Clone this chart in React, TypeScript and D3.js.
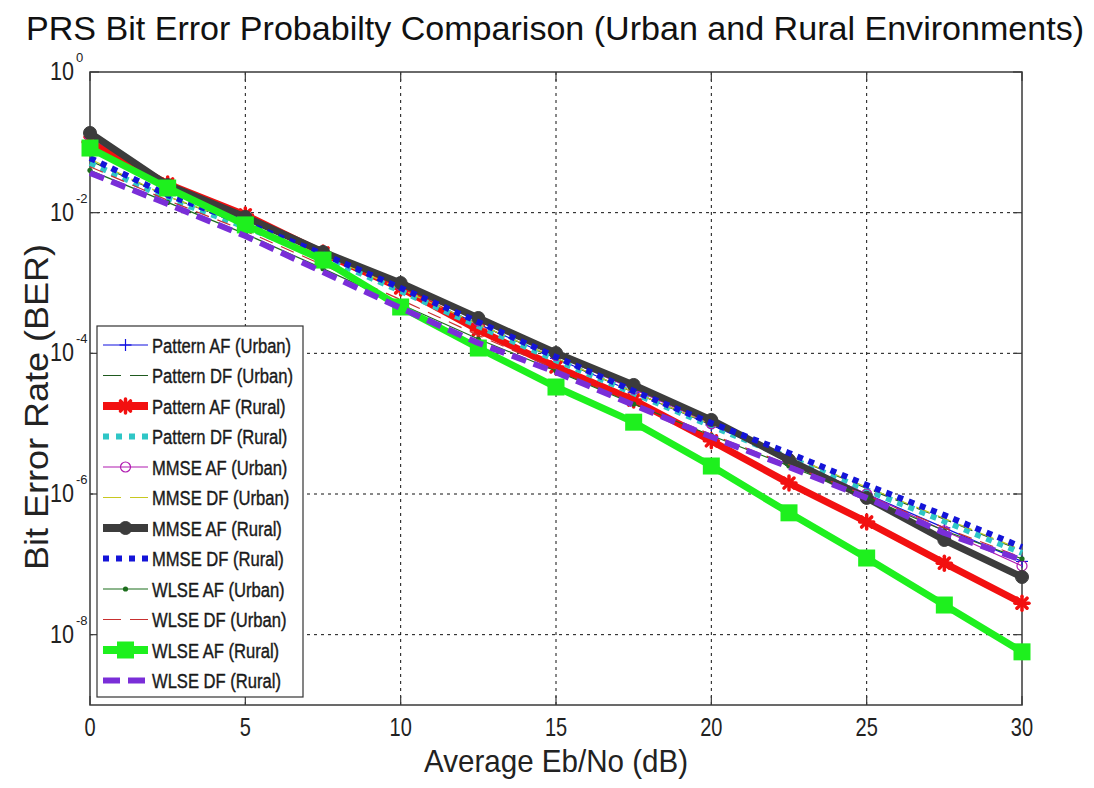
import React from "react";
import * as d3 from "d3";

const snr = [0, 2.5, 5, 7.5, 10, 12.5, 15, 17.5, 20, 22.5, 25, 27.5, 30];

const patternAFUrban = [0.088, 0.023, 7.9e-3, 2.5e-3, 8.2e-4, 2.6e-4, 8.5e-5, 2.8e-5, 9.6e-6, 3.1e-6, 1.0e-6, 3.3e-7, 1.1e-7];
const patternDFUrban = [0.055, 0.017, 6.6e-3, 2.4e-3, 8.0e-4, 2.6e-4, 8.4e-5, 2.8e-5, 9.7e-6, 3.5e-6, 1.2e-6, 4.4e-7, 1.55e-7];
const patternAFRural = [0.101, 0.0256, 9.3e-3, 2.67e-3, 8.5e-4, 2.15e-4, 6.4e-5, 2.17e-5, 5.7e-6, 1.43e-6, 4.0e-7, 1.04e-7, 2.8e-8];
const patternDFRural = [0.0508, 0.0161, 6.25e-3, 2.34e-3, 7.7e-4, 2.44e-4, 8.0e-5, 2.72e-5, 9.3e-6, 3.25e-6, 1.14e-6, 4.1e-7, 1.45e-7];
const mmseAFUrban = [0.12, 0.024, 8.4e-3, 2.7e-3, 9.3e-4, 2.9e-4, 9.3e-5, 3.1e-5, 1.0e-5, 3.2e-6, 1.0e-6, 3.0e-7, 9.5e-8];
const mmseDFUrban = [0.058, 0.017, 6.8e-3, 2.5e-3, 8.2e-4, 2.6e-4, 8.6e-5, 2.8e-5, 9.8e-6, 3.5e-6, 1.25e-6, 4.5e-7, 1.6e-7];
const mmseAFRural = [0.136, 0.0247, 8.7e-3, 2.76e-3, 1.0e-3, 3.18e-4, 1.01e-4, 3.55e-5, 1.13e-5, 3.04e-6, 8.8e-7, 2.22e-7, 6.6e-8];
const mmseDFRural = [0.06, 0.0178, 7.1e-3, 2.58e-3, 8.5e-4, 2.79e-4, 8.9e-5, 2.91e-5, 1.02e-5, 3.83e-6, 1.34e-6, 5.0e-7, 1.76e-7];
const wlseAFUrban = [0.04, 0.014, 5.0e-3, 1.6e-3, 5.0e-4, 1.6e-4, 5.6e-5, 1.9e-5, 6.8e-6, 2.5e-6, 9.0e-7, 3.0e-7, 1.2e-7];
const wlseDFUrban = [0.045, 0.015, 5.5e-3, 1.8e-3, 5.8e-4, 1.8e-4, 6.0e-5, 2.0e-5, 7.0e-6, 2.6e-6, 9.5e-7, 3.3e-7, 1.25e-7];
const wlseAFRural = [0.083, 0.0224, 6.7e-3, 2.12e-3, 4.56e-4, 1.19e-4, 3.32e-5, 1.05e-5, 2.5e-6, 5.4e-7, 1.23e-7, 2.64e-8, 5.7e-9];
const wlseDFRural = [0.0366, 0.0133, 4.66e-3, 1.43e-3, 4.4e-4, 1.40e-4, 5.4e-5, 1.84e-5, 6.5e-6, 2.42e-6, 8.8e-7, 2.79e-7, 1.15e-7];

const xTicks = [0, 5, 10, 15, 20, 25, 30];
const yTickExponents = [0, -2, -4, -6, -8];

const title = "PRS Bit Error Probabilty Comparison (Urban and Rural Environments)";
const xLabel = "Average Eb/No (dB)";
const yLabel = "Bit Error Rate (BER)";

type Marker = "plus" | "star" | "circle" | "dot" | "fcircle" | "square" | "none";
interface Series {
  name: string;
  values: number[];
  color: string;
  width: number;
  dash?: string;
  legDash?: string;
  marker: Marker;
}

const series: Series[] = [
  { name: "Pattern AF (Urban)", values: patternAFUrban, color: "#1010e0", width: 1.2, marker: "plus" },
  { name: "Pattern DF (Urban)", values: patternDFUrban, color: "#1f5a1f", width: 1.2, dash: "14,9", legDash: "18,9", marker: "none" },
  { name: "Pattern AF (Rural)", values: patternAFRural, color: "#f21010", width: 7, marker: "star" },
  { name: "Pattern DF (Rural)", values: patternDFRural, color: "#2fc6c6", width: 6, dash: "6,6", legDash: "6,7", marker: "none" },
  { name: "MMSE AF (Urban)", values: mmseAFUrban, color: "#b01ab0", width: 1.2, marker: "circle" },
  { name: "MMSE DF (Urban)", values: mmseDFUrban, color: "#c8c820", width: 1.2, dash: "14,9", legDash: "18,9", marker: "none" },
  { name: "MMSE AF (Rural)", values: mmseAFRural, color: "#3c3c3c", width: 7, marker: "fcircle" },
  { name: "MMSE DF (Rural)", values: mmseDFRural, color: "#1414d8", width: 6, dash: "6,6", legDash: "6,7", marker: "none" },
  { name: "WLSE AF (Urban)", values: wlseAFUrban, color: "#1d6e1d", width: 1.2, marker: "dot" },
  { name: "WLSE DF (Urban)", values: wlseDFUrban, color: "#c83030", width: 1.2, dash: "14,9", legDash: "18,9", marker: "none" },
  { name: "WLSE AF (Rural)", values: wlseAFRural, color: "#1ef01e", width: 7, marker: "square" },
  { name: "WLSE DF (Rural)", values: wlseDFRural, color: "#7a2ed8", width: 6, dash: "15,8", legDash: "17,8", marker: "none" },
];

const W = 1094;
const H = 788;
const L = 90, R = 1022, T = 72, B = 705;

const x = d3.scaleLinear().domain([0, 30]).range([L, R]);
const y = d3.scaleLog().domain([1e-9, 1]).range([B, T]);

function MarkerShape({ m, cx, cy, color }: { m: Marker; cx: number; cy: number; color: string }) {
  switch (m) {
    case "plus":
      return (
        <g stroke={color} strokeWidth={1.2}>
          <line x1={cx - 6} x2={cx + 6} y1={cy} y2={cy} />
          <line x1={cx} x2={cx} y1={cy - 6} y2={cy + 6} />
        </g>
      );
    case "star": {
      const s = 7;
      const d = s * 0.72;
      return (
        <g stroke={color} strokeWidth={3.5} strokeLinecap="round">
          <line x1={cx - s} x2={cx + s} y1={cy} y2={cy} />
          <line x1={cx} x2={cx} y1={cy - s} y2={cy + s} />
          <line x1={cx - d} x2={cx + d} y1={cy - d} y2={cy + d} />
          <line x1={cx - d} x2={cx + d} y1={cy + d} y2={cy - d} />
        </g>
      );
    }
    case "circle":
      return <circle cx={cx} cy={cy} r={5} fill="none" stroke={color} strokeWidth={1.2} />;
    case "dot":
      return <circle cx={cx} cy={cy} r={2.6} fill={color} />;
    case "fcircle":
      return <circle cx={cx} cy={cy} r={6.5} fill={color} stroke={color} strokeWidth={1} />;
    case "square":
      return <rect x={cx - 8.5} y={cy - 8.5} width={17} height={17} fill={color} />;
    default:
      return null;
  }
}

export default function App() {
  const line = d3
    .line<number>()
    .x((_, i) => x(snr[i]))
    .y((v) => y(v));

  const legX = 97, legY = 326, legW = 206, legH = 371;
  const legStep = 30.5;
  const legFirst = 345;

  return (
    <svg
      width={W}
      height={H}
      style={{ position: "absolute", left: 0, top: 0, background: "#fff" }}
      fontFamily="'Liberation Sans', Arial, sans-serif"
    >
      <rect x={0} y={0} width={W} height={H} fill="#fff" />
      {/* title */}
      <text x={26} y={40} fontSize={34} fill="#111" textLength={1058} lengthAdjust="spacingAndGlyphs">
        {title}
      </text>

      {/* grid */}
      <g stroke="#111" strokeWidth={1} strokeDasharray="3,4">
        {xTicks.slice(1, -1).map((t) => (
          <line key={"gx" + t} x1={x(t)} x2={x(t)} y1={T} y2={B} />
        ))}
        {yTickExponents.slice(1).map((e) => (
          <line key={"gy" + e} x1={L} x2={R} y1={y(Math.pow(10, e))} y2={y(Math.pow(10, e))} />
        ))}
      </g>

      {/* frame */}
      <rect x={L} y={T} width={R - L} height={B - T} fill="none" stroke="#3a3a3a" strokeWidth={1.5} />
      {/* ticks */}
      <g stroke="#3a3a3a" strokeWidth={1.2}>
        {xTicks.map((t) => (
          <g key={"tx" + t}>
            <line x1={x(t)} x2={x(t)} y1={B} y2={B - 9} />
            <line x1={x(t)} x2={x(t)} y1={T} y2={T + 9} />
          </g>
        ))}
        {yTickExponents.map((e) => (
          <g key={"ty" + e}>
            <line x1={L} x2={L + 9} y1={y(Math.pow(10, e))} y2={y(Math.pow(10, e))} />
            <line x1={R} x2={R - 9} y1={y(Math.pow(10, e))} y2={y(Math.pow(10, e))} />
          </g>
        ))}
      </g>

      {/* tick labels */}
      <g fontSize={25} fill="#222">
        {xTicks.map((t) => (
          <text key={"lx" + t} x={x(t)} y={736} textAnchor="middle" transform={`translate(${x(t)},0) scale(0.8,1) translate(${-x(t)},0)`}>
            {t}
          </text>
        ))}
        {yTickExponents.map((e) => {
          const yy = y(Math.pow(10, e));
          return (
            <g key={"ly" + e}>
              <text x={74} y={yy + 8} textAnchor="end" textLength={24} lengthAdjust="spacingAndGlyphs">
                10
              </text>
              <text x={76} y={yy - 10} fontSize={13}>
                {e}
              </text>
            </g>
          );
        })}
      </g>

      {/* axis labels */}
      <text x={556} y={772} textAnchor="middle" fontSize={32} fill="#222" textLength={264} lengthAdjust="spacingAndGlyphs">
        {xLabel}
      </text>
      <text
        transform="translate(48,407) rotate(-90)"
        textAnchor="middle"
        fontSize={34}
        fill="#222"
        textLength={326}
        lengthAdjust="spacingAndGlyphs"
      >
        {yLabel}
      </text>

      {/* series */}
      {series.map((s) => (
        <g key={s.name}>
          <path
            d={line(s.values) || ""}
            fill="none"
            stroke={s.color}
            strokeWidth={s.width}
            strokeDasharray={s.dash}
            strokeLinejoin="round"
          />
          {s.marker !== "none" &&
            s.values.map((v, i) => (
              <MarkerShape key={i} m={s.marker} cx={x(snr[i])} cy={y(v)} color={s.color} />
            ))}
        </g>
      ))}

      {/* legend */}
      <rect x={legX} y={legY} width={legW} height={legH} fill="#fff" stroke="#333" strokeWidth={1.2} />
      {series.map((s, i) => {
        const ly = legFirst + i * legStep;
        return (
          <g key={"leg" + s.name}>
            <line x1={103} x2={148} y1={ly} y2={ly} stroke={s.color} strokeWidth={s.width === 7 ? 8 : s.width} strokeDasharray={s.legDash} />
            {s.marker !== "none" && <MarkerShape m={s.marker} cx={125.5} cy={ly} color={s.color} />}
            <text
              x={0}
              y={0}
              fontSize={21}
              fill="#1a1a1a"
              stroke="#1a1a1a"
              strokeWidth={0.4}
              transform={`translate(152,${ly + 7.5}) scale(0.79,1)`}
            >
              {s.name}
            </text>
          </g>
        );
      })}
    </svg>
  );
}
